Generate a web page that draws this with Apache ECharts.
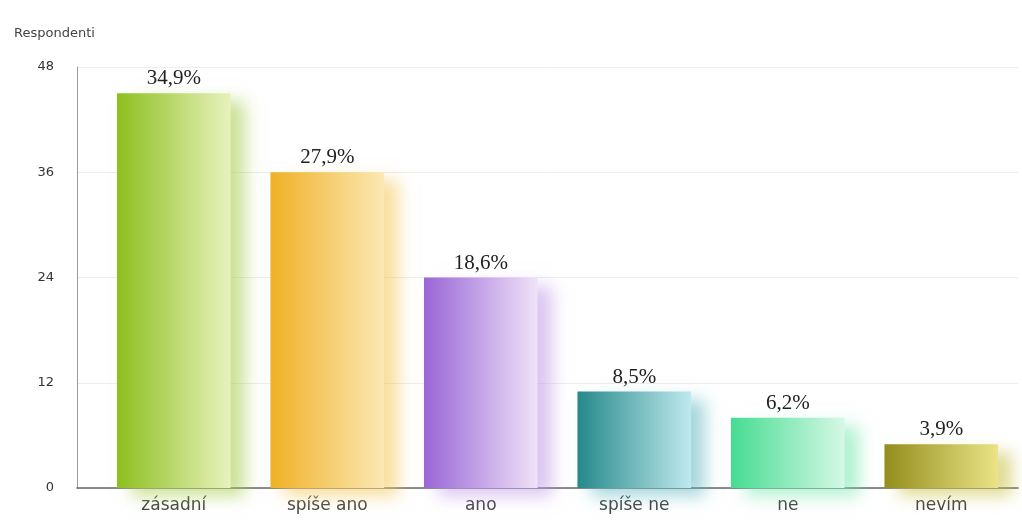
<!DOCTYPE html>
<html><head><meta charset="utf-8">
<script src="https://cdn.jsdelivr.net/npm/echarts@6/dist/echarts.min.js"></script>
<style>html,body{margin:0;padding:0;background:#fff}#c{width:1022px;height:520px}</style>
</head><body><div id="c"></div>
<script>
const categories = ['zásadní', 'spíše ano', 'ano', 'spíše ne', 'ne', 'nevím'];
const respondents = [45, 36, 24, 11, 8, 5];
const pctLabels = ['34,9%', '27,9%', '18,6%', '8,5%', '6,2%', '3,9%'];
const yTicks = [0, 12, 24, 36, 48];
const colorsDark = ['#8cbf1e', '#f0b125', '#9a66d6', '#25898a', '#45dc92', '#938d1c'];
const colorsLight = ['#e8f2bd', '#fbe8b4', '#efe2f8', '#bfe9ee', '#d6f8e6', '#ebe488'];
const shadowCols = ['rgba(170,205,80,0.6)', 'rgba(245,200,90,0.6)', 'rgba(190,150,230,0.55)', 'rgba(90,180,190,0.55)', 'rgba(110,230,170,0.55)', 'rgba(200,190,60,0.55)'];

const chart = echarts.init(document.getElementById('c'));
const data = respondents.map((v, i) => ({
  value: v,
  itemStyle: {
    color: new echarts.graphic.LinearGradient(0, 0, 1, 0, [
      {offset: 0, color: colorsDark[i]},
      {offset: 1, color: colorsLight[i]}
    ]),
    shadowColor: shadowCols[i],
    shadowBlur: 16,
    shadowOffsetX: 14,
    shadowOffsetY: 8
  },
  label: {formatter: pctLabels[i]}
}));
chart.setOption({
  animation: false,
  title: {text: 'Respondenti', left: 9, top: 22, textStyle: {fontFamily: 'DejaVu Sans', fontSize: 13, fontWeight: 'normal', color: '#444'}},
  grid: [
    {left: 77, right: 4, top: 67, bottom: 32},
    {left: 97, right: 4, top: 67, bottom: 32}
  ],
  xAxis: [
    {type: 'category', gridIndex: 0, data: categories, axisLine: {lineStyle: {color: '#666', width: 1.5}}, axisTick: {show: false}, axisLabel: {show: false}},
    {type: 'category', gridIndex: 1, data: categories, axisLine: {show: false}, axisTick: {show: false},
     axisLabel: {margin: 9, fontFamily: 'DejaVu Sans', fontSize: 17, color: '#444'}}
  ],
  yAxis: [
    {type: 'value', gridIndex: 0, min: 0, max: 48, interval: 12,
     axisLine: {show: true, lineStyle: {color: '#999'}}, axisTick: {show: false},
     splitLine: {lineStyle: {color: '#ececec'}},
     axisLabel: {margin: 23, fontFamily: 'DejaVu Sans', fontSize: 13, color: '#333',
       formatter: v => yTicks.includes(v) ? String(v) : ''}},
    {type: 'value', gridIndex: 1, min: 0, max: 48, interval: 12, show: false}
  ],
  series: [{
    type: 'bar', xAxisIndex: 1, yAxisIndex: 1, barWidth: '74%', data: data,
    label: {show: true, position: 'top', distance: 4, fontFamily: 'Liberation Serif', fontSize: 21, color: '#222'}
  }]
});
</script></body></html>
